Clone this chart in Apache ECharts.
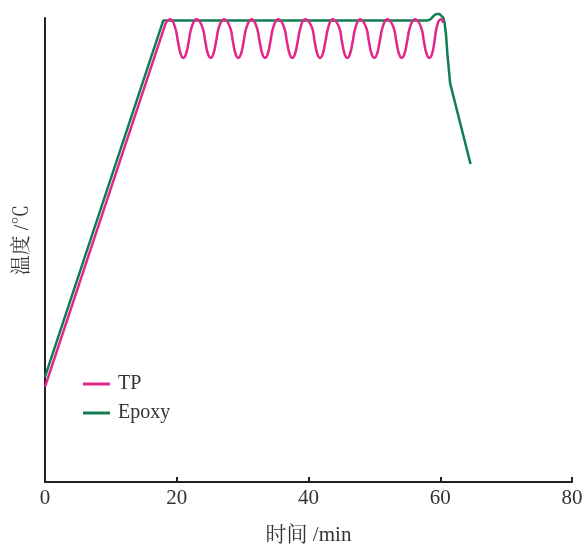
<!DOCTYPE html>
<html>
<head>
<meta charset="utf-8">
<script src="https://cdn.jsdelivr.net/npm/echarts@6/dist/echarts.min.js"></script>
<style>html,body{margin:0;padding:0;background:#fff}#c{width:585px;height:544px}</style>
</head>
<body>
<div id="c"></div>
<script>
var xTicks = [0, 20, 40, 60, 80];
var xName = '时间 /min';
var yName = '温度 /℃';

// Epoxy: [time (min), temperature]
var epoxyData = [
  [0, 56.6], [17.96, 248.7], [58.1, 248.7], [58.5, 249.3], [58.8, 250.4], [59.1, 251.5],
  [59.5, 252.2], [59.9, 252.1], [60.2, 251.4], [60.45, 250.2], [60.65, 247.5], [60.85, 242],
  [61.1, 230], [61.5, 214.8], [64.6, 171.3]
];

// TP heating ramp: [time (min), temperature]
var tpRamp = [
  [0, 51.2], [18.35, 247.5]
];

// TP cyclic stage: [time (min), temperature]
var tpCycle = [
  [18.35, 247.5], [19.0, 249.3],
  [19.7, 245.5], [20.2, 237], [20.6, 230.5], [21.0, 228.5], [21.4, 230.5], [21.8, 237], [22.3, 245.5], [23.03, 249.3],
  [23.85, 245.5], [24.35, 237], [24.75, 230.5], [25.15, 228.5], [25.55, 230.5], [25.95, 237], [26.45, 245.5], [27.17, 249.3],
  [28.04, 245.5], [28.54, 237], [28.94, 230.5], [29.34, 228.5], [29.74, 230.5], [30.14, 237], [30.64, 245.5], [31.38, 249.3],
  [32.1, 245.5], [32.6, 237], [33.0, 230.5], [33.4, 228.5], [33.8, 230.5], [34.2, 237], [34.7, 245.5], [35.42, 249.3],
  [36.24, 245.5], [36.74, 237], [37.14, 230.5], [37.54, 228.5], [37.94, 230.5], [38.34, 237], [38.84, 245.5], [39.47, 249.3],
  [40.45, 245.5], [40.95, 237], [41.35, 230.5], [41.75, 228.5], [42.15, 230.5], [42.55, 237], [43.05, 245.5], [43.67, 249.3],
  [44.59, 245.5], [45.09, 237], [45.49, 230.5], [45.89, 228.5], [46.29, 230.5], [46.69, 237], [47.19, 245.5], [47.82, 249.3],
  [48.69, 245.5], [49.19, 237], [49.59, 230.5], [49.99, 228.5], [50.39, 230.5], [50.79, 237], [51.29, 245.5], [51.96, 249.3],
  [52.85, 245.5], [53.35, 237], [53.75, 230.5], [54.15, 228.5], [54.55, 230.5], [54.95, 237], [55.45, 245.5], [56.17, 249.3],
  [57.04, 245.5], [57.54, 237], [57.94, 230.5], [58.34, 228.5], [58.74, 230.5], [59.1, 237], [59.5, 245.5], [60.07, 249.3],
  [60.45, 247.5]
];

var serif = '"Liberation Serif", "Noto Serif CJK SC", "Noto Sans CJK SC", serif';
var tpColor = '#e3268c';
var epColor = '#127d50';
var chart = echarts.init(document.getElementById('c'), null, {renderer: 'canvas'});
chart.setOption({
  animation: false,
  backgroundColor: '#fff',
  grid: {left: 45, right: 13, top: 18, bottom: 62, containLabel: false, outerBoundsMode: 'none'},
  legend: {
    orient: 'vertical', left: 78, top: 369, itemGap: 9,
    itemWidth: 27, itemHeight: 3, icon: 'rect',
    data: ['TP', 'Epoxy'],
    textStyle: {fontFamily: serif, fontSize: 20, color: '#333', padding: [0, 0, 0, 3]}
  },
  xAxis: {
    type: 'value', min: xTicks[0], max: xTicks[xTicks.length - 1], interval: 20,
    name: xName, nameLocation: 'middle', nameGap: 43,
    nameTextStyle: {fontFamily: serif, fontSize: 21, color: '#333'},
    axisLine: {lineStyle: {color: '#222', width: 2}},
    axisTick: {inside: true, length: 5, lineStyle: {color: '#222', width: 2}},
    axisLabel: {fontFamily: serif, fontSize: 21, color: '#333', margin: 6},
    splitLine: {show: false}
  },
  yAxis: {
    type: 'value', min: 0, max: 250,
    name: yName, nameLocation: 'middle', nameGap: 12, nameRotate: 90,
    nameTextStyle: {fontFamily: serif, fontSize: 20, color: '#333', padding: [0, 0, 0, 20]},
    axisLine: {show: true, lineStyle: {color: '#222', width: 2}},
    axisTick: {show: false},
    axisLabel: {show: false},
    splitLine: {show: false}
  },
  series: [
    {
      name: 'Epoxy', type: 'line', data: epoxyData, showSymbol: false, symbol: 'none',
      clip: false, smooth: false,
      lineStyle: {color: epColor, width: 2.5}, itemStyle: {color: epColor}
    },
    {
      name: 'TP', type: 'line', data: tpRamp, showSymbol: false, symbol: 'none',
      clip: false, smooth: false,
      lineStyle: {color: tpColor, width: 2.5}, itemStyle: {color: tpColor}
    },
    {
      name: 'TP', type: 'line', data: tpCycle, showSymbol: false, symbol: 'none',
      clip: false, smooth: 0.5,
      lineStyle: {color: tpColor, width: 2.5}, itemStyle: {color: tpColor}
    }
  ]
});
</script>
</body>
</html>
